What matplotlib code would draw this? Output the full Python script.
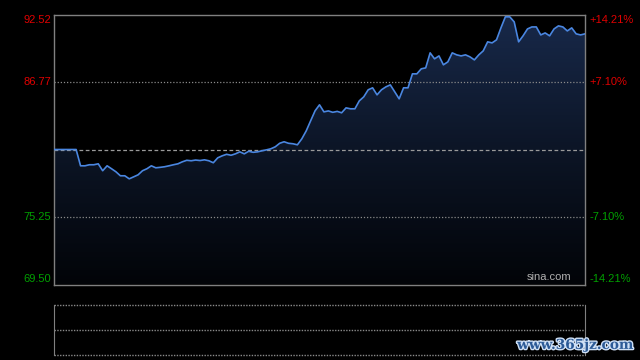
import numpy as np
from matplotlib import pyplot as plt
from matplotlib.patches import Polygon
from matplotlib.colors import LinearSegmentedColormap
from matplotlib.transforms import blended_transform_factory
import matplotlib.patheffects as pe

plt.rcParams["font.family"] = ["Liberation Sans", "DejaVu Sans"]

prev_close = 81.01
y_min, y_max = 69.50, 92.52
left_labels = ["92.52", "86.77", "75.25", "69.50"]
left_values = [92.52, 86.77, 75.25, 69.50]
right_labels = ["+14.21%", "+7.10%", "-7.10%", "-14.21%"]

# price sampled every 2 minutes over the 240-minute session
minutes = np.arange(0, 242, 2)
prices = [81.01, 81.01, 81.01, 81.01, 81.01, 81.01, 79.62, 79.62, 79.71, 79.71,
          79.79, 79.20, 79.62, 79.37, 79.11, 78.77, 78.77, 78.51, 78.68, 78.85,
          79.20, 79.37, 79.62, 79.45, 79.49, 79.54, 79.62, 79.71, 79.79, 79.96,
          80.09, 80.05, 80.11, 80.07, 80.13, 80.05, 79.88, 80.30, 80.47, 80.60,
          80.52, 80.64, 80.81, 80.64, 80.86, 80.77, 80.81, 80.90, 80.98, 81.07,
          81.24, 81.54, 81.67, 81.54, 81.50, 81.41, 81.92, 82.60, 83.46, 84.31,
          84.82, 84.22, 84.30, 84.18, 84.26, 84.14, 84.56, 84.48, 84.48, 85.16,
          85.50, 86.10, 86.27, 85.67, 86.10, 86.35, 86.52, 85.93, 85.33, 86.27,
          86.27, 87.46, 87.46, 87.89, 87.97, 89.25, 88.74, 88.99, 88.23, 88.48,
          89.25, 89.08, 88.99, 89.08, 88.91, 88.65, 89.08, 89.42, 90.19, 90.10,
          90.36, 91.38, 92.32, 92.32, 91.89, 90.19, 90.70, 91.29, 91.46, 91.46,
          90.78, 90.95, 90.70, 91.29, 91.55, 91.46, 91.12, 91.38, 90.87, 90.78,
          90.87]

W, H = 640, 360
fig = plt.figure(figsize=(6.4, 3.6), dpi=100, facecolor="black")
ax = fig.add_axes([54 / W, 1 - 284.5 / H, 531 / W, 270 / H])
ax.set_facecolor("black")
ax.set_xlim(0, 240)
ax.set_ylim(y_min, y_max)
ax.set_xticks([])
ax.set_yticks([])
for s in ax.spines.values():
    s.set_color("#808080")
    s.set_linewidth(1)

# gradient area under the price line
cmap = LinearSegmentedColormap.from_list("fill", ["#020408", "#0c1526", "#18294a"])
grad = np.linspace(0, 1, 256).reshape(-1, 1)
im = ax.imshow(grad, extent=[0, 240, y_min, y_max], aspect="auto",
               origin="lower", cmap=cmap, zorder=1)
verts = [(minutes[0], y_min)] + list(zip(minutes, prices)) + [(minutes[-1], y_min)]
poly = Polygon(verts, closed=True, facecolor="none", edgecolor="none")
ax.add_patch(poly)
im.set_clip_path(poly)

for v in [86.77, 75.25]:
    ax.axhline(v, color="#8a8a8a", lw=0.9, ls=(0, (1, 1.5)), zorder=2)
ax.axhline(prev_close, color="#9a9a9a", lw=0.9, ls=(0, (3, 2)), zorder=2)

ax.plot(minutes, prices, color="#4a86e0", lw=1.2, zorder=3)

tr = blended_transform_factory(ax.transAxes, ax.transData)
vas = ["top", "center", "center", "bottom"]
cols = ["#e00000", "#e00000", "#00a000", "#00a000"]
for lab, rlab, v, va, c in zip(left_labels, right_labels, left_values, vas, cols):
    ax.text(-0.006, v, lab, transform=tr, ha="right", va=va, color=c, fontsize=8)
    ax.text(1.008, v, rlab, transform=tr, ha="left", va=va, color=c, fontsize=8)

ax.text(0.975, 0.01, "sina.com", transform=ax.transAxes, ha="right", va="bottom",
        color="#b0b0b0", fontsize=8)

# lower (volume) panel
ax2 = fig.add_axes([54 / W, 5.5 / H, 531 / W, 49.5 / H])
ax2.set_facecolor("black")
ax2.set_xlim(0, 240)
ax2.set_ylim(0, 1)
ax2.set_xticks([])
ax2.set_yticks([])
for k in ["top", "bottom"]:
    ax2.spines[k].set_visible(False)
for k in ["left", "right"]:
    ax2.spines[k].set_color("#808080")
for v in [0, 0.5, 1]:
    ax2.axhline(v, color="#8a8a8a", lw=1, ls=(0, (1, 1)), clip_on=False)

fig.text(0.99, 0.042, "www.365jz.com", ha="right", va="center", fontsize=9.8,
         fontweight="bold", family="DejaVu Serif", color="#2c5a96",
         path_effects=[pe.withStroke(linewidth=2.0, foreground="#cfe0f5")])

fig.savefig("out.png", dpi=100, facecolor="black")
